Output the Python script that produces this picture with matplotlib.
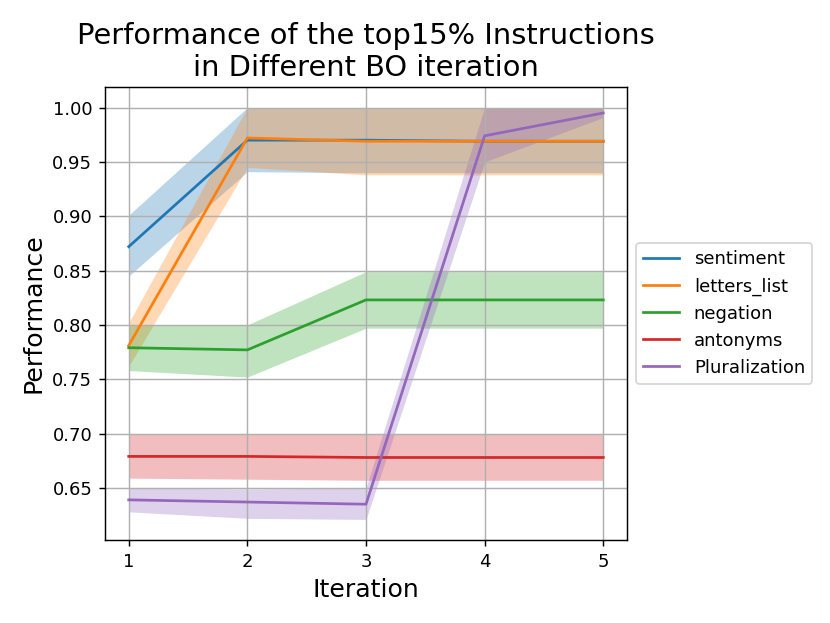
import numpy as np
import matplotlib
matplotlib.use("Agg")
import matplotlib.pyplot as plt


iterations = [1, 2, 3, 4, 5]
names = ["sentiment", "letters_list", "negation", "antonyms", "Pluralization"]

# mean line, lower and upper edge of the shaded band, per task
sentiment_mean = [0.872, 0.970, 0.970, 0.969, 0.969]
sentiment_low = [0.845, 0.941, 0.940, 0.940, 0.940]
sentiment_high = [0.901, 1.000, 1.000, 1.000, 1.000]

letters_mean = [0.781, 0.972, 0.969, 0.969, 0.969]
letters_low = [0.762, 0.945, 0.938, 0.938, 0.938]
letters_high = [0.802, 1.000, 1.000, 1.000, 1.000]

negation_mean = [0.779, 0.777, 0.823, 0.823, 0.823]
negation_low = [0.758, 0.752, 0.797, 0.797, 0.797]
negation_high = [0.800, 0.800, 0.849, 0.849, 0.849]

antonyms_mean = [0.679, 0.679, 0.678, 0.678, 0.678]
antonyms_low = [0.659, 0.658, 0.657, 0.657, 0.657]
antonyms_high = [0.700, 0.700, 0.700, 0.700, 0.700]

plural_mean = [0.639, 0.637, 0.635, 0.974, 0.995]
plural_low = [0.628, 0.622, 0.621, 0.950, 0.991]
plural_high = [0.650, 0.649, 0.650, 1.000, 1.000]

means = [sentiment_mean, letters_mean, negation_mean, antonyms_mean, plural_mean]
lows = [sentiment_low, letters_low, negation_low, antonyms_low, plural_low]
highs = [sentiment_high, letters_high, negation_high, antonyms_high, plural_high]


def driver():
    fig = plt.figure(figsize=(830 / 130, 623 / 130), dpi=130)
    ax = fig.add_axes([0.1265, 0.1332, 0.6289, 0.7272])

    for i in range(len(names)):
        line, = ax.plot(iterations, means[i], label=names[i])
        ax.fill_between(iterations, lows[i], highs[i], color=line.get_color(),
                        alpha=0.3, linewidth=0)

    ax.set_xticks(iterations)
    ax.grid(True)
    ax.set_title("Performance of the top15% Instructions\nin Different BO iteration", fontsize=16)
    ax.set_xlabel("Iteration", fontsize=14)
    ax.set_ylabel("Performance", fontsize=14)
    ax.legend(loc="center left", bbox_to_anchor=(1.0, 0.5))

    fig.savefig("out.png", dpi=130)


if __name__ == '__main__':
    driver()
